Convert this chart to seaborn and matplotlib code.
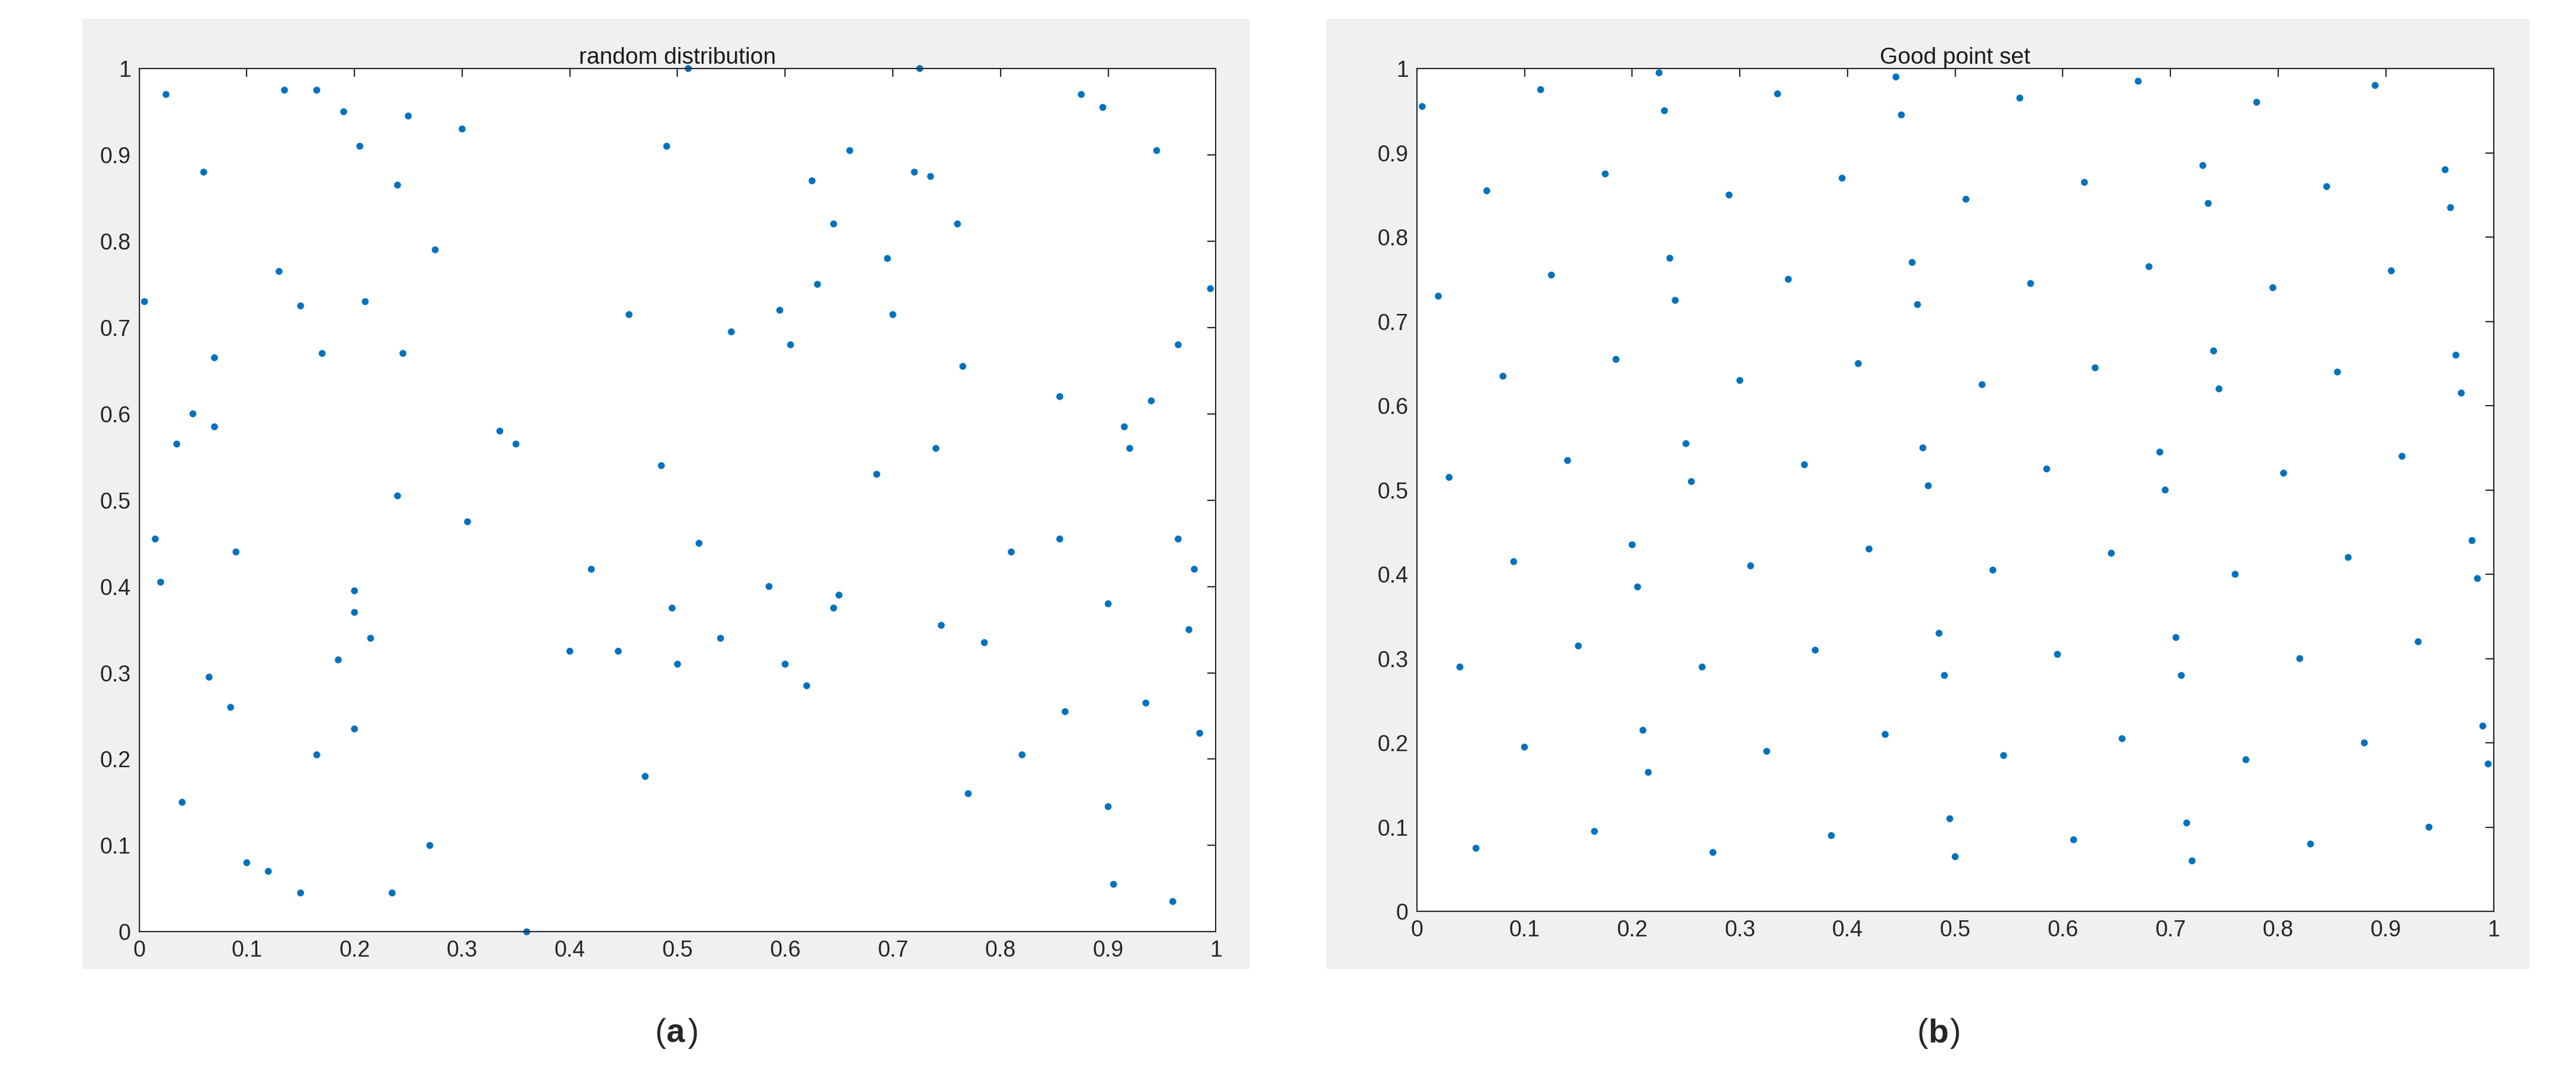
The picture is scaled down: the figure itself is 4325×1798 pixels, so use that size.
import matplotlib.pyplot as plt
import matplotlib.patches as mpatches
import seaborn as sns
import pandas as pd

sns.set_style("white")
plt.rcParams["font.family"] = ["Liberation Sans", "DejaVu Sans"]

# panel (a): random distribution
rand_x = [0.005, 0.015, 0.02, 0.025, 0.035, 0.04, 0.05, 0.06, 0.065, 0.07, 0.07, 0.085, 0.09, 0.1, 0.12,
          0.13, 0.135, 0.15, 0.15, 0.165, 0.165, 0.17, 0.185, 0.19, 0.2, 0.2, 0.2, 0.205, 0.21, 0.215,
          0.235, 0.24, 0.24, 0.245, 0.25, 0.27, 0.275, 0.3, 0.305, 0.335, 0.35, 0.36, 0.4, 0.42, 0.445,
          0.455, 0.47, 0.485, 0.49, 0.495, 0.5, 0.51, 0.52, 0.54, 0.55, 0.585, 0.595, 0.6, 0.605, 0.62,
          0.625, 0.63, 0.645, 0.645, 0.65, 0.66, 0.685, 0.695, 0.7, 0.72, 0.725, 0.735, 0.74, 0.745, 0.76,
          0.765, 0.77, 0.785, 0.81, 0.82, 0.855, 0.855, 0.86, 0.875, 0.895, 0.9, 0.9, 0.905, 0.915, 0.92,
          0.935, 0.94, 0.945, 0.96, 0.965, 0.965, 0.975, 0.98, 0.985, 0.995]
rand_y = [0.73, 0.455, 0.405, 0.97, 0.565, 0.15, 0.6, 0.88, 0.295, 0.665, 0.585, 0.26, 0.44, 0.08, 0.07,
          0.765, 0.975, 0.725, 0.045, 0.205, 0.975, 0.67, 0.315, 0.95, 0.395, 0.37, 0.235, 0.91, 0.73, 0.34,
          0.045, 0.505, 0.865, 0.67, 0.945, 0.1, 0.79, 0.93, 0.475, 0.58, 0.565, 0.0, 0.325, 0.42, 0.325,
          0.715, 0.18, 0.54, 0.91, 0.375, 0.31, 1.0, 0.45, 0.34, 0.695, 0.4, 0.72, 0.31, 0.68, 0.285,
          0.87, 0.75, 0.375, 0.82, 0.39, 0.905, 0.53, 0.78, 0.715, 0.88, 1.0, 0.875, 0.56, 0.355, 0.82,
          0.655, 0.16, 0.335, 0.44, 0.205, 0.62, 0.455, 0.255, 0.97, 0.955, 0.38, 0.145, 0.055, 0.585, 0.56,
          0.265, 0.615, 0.905, 0.035, 0.455, 0.68, 0.35, 0.42, 0.23, 0.745]

# panel (b): good point set
good_x = [0.005, 0.02, 0.03, 0.04, 0.055, 0.065, 0.08, 0.09, 0.1, 0.115, 0.125, 0.14, 0.15, 0.165, 0.175,
          0.185, 0.2, 0.205, 0.21, 0.215, 0.225, 0.23, 0.235, 0.24, 0.25, 0.255, 0.265, 0.275, 0.29, 0.3,
          0.31, 0.325, 0.335, 0.345, 0.36, 0.37, 0.385, 0.395, 0.41, 0.42, 0.435, 0.445, 0.45, 0.46, 0.465,
          0.47, 0.475, 0.485, 0.49, 0.495, 0.5, 0.51, 0.525, 0.535, 0.545, 0.56, 0.57, 0.585, 0.595, 0.61,
          0.62, 0.63, 0.645, 0.655, 0.67, 0.68, 0.69, 0.695, 0.705, 0.71, 0.715, 0.72, 0.73, 0.735, 0.74,
          0.745, 0.76, 0.77, 0.78, 0.795, 0.805, 0.82, 0.83, 0.845, 0.855, 0.865, 0.88, 0.89, 0.905, 0.915,
          0.93, 0.94, 0.955, 0.96, 0.965, 0.97, 0.98, 0.985, 0.99, 0.995]
good_y = [0.955, 0.73, 0.515, 0.29, 0.075, 0.855, 0.635, 0.415, 0.195, 0.975, 0.755, 0.535, 0.315, 0.095, 0.875,
          0.655, 0.435, 0.385, 0.215, 0.165, 0.995, 0.95, 0.775, 0.725, 0.555, 0.51, 0.29, 0.07, 0.85, 0.63,
          0.41, 0.19, 0.97, 0.75, 0.53, 0.31, 0.09, 0.87, 0.65, 0.43, 0.21, 0.99, 0.945, 0.77, 0.72,
          0.55, 0.505, 0.33, 0.28, 0.11, 0.065, 0.845, 0.625, 0.405, 0.185, 0.965, 0.745, 0.525, 0.305, 0.085,
          0.865, 0.645, 0.425, 0.205, 0.985, 0.765, 0.545, 0.5, 0.325, 0.28, 0.105, 0.06, 0.885, 0.84, 0.665,
          0.62, 0.4, 0.18, 0.96, 0.74, 0.52, 0.3, 0.08, 0.86, 0.64, 0.42, 0.2, 0.98, 0.76, 0.54,
          0.32, 0.1, 0.88, 0.835, 0.66, 0.615, 0.44, 0.395, 0.22, 0.175]

ticks = [0, 0.1, 0.2, 0.3, 0.4, 0.5, 0.6, 0.7, 0.8, 0.9, 1]
tick_labels = ["0", "0.1", "0.2", "0.3", "0.4", "0.5", "0.6", "0.7", "0.8", "0.9", "1"]

fig = plt.figure(figsize=(43.25, 17.98), dpi=100)

# gray MATLAB-style figure backgrounds
for x0, w in [(0.032, 0.453), (0.515, 0.467)]:
    fig.patches.append(mpatches.Rectangle((x0, 0.095), w, 0.887, transform=fig.transFigure,
                                          facecolor="#f0f0f0", edgecolor="none", zorder=-10))

panels = [
    ([0.054, 0.130, 0.418, 0.806], rand_x, rand_y, "random distribution", "a", 0.2585),
    ([0.550, 0.149, 0.418, 0.787], good_x, good_y, "Good point set", "b", 0.7485),
]

for rect, xs, ys, title, letter, lx in panels:
    ax = fig.add_axes(rect, zorder=5)
    ax.set_facecolor("white")
    df = pd.DataFrame({"x": xs, "y": ys})
    sns.scatterplot(data=df, x="x", y="y", ax=ax, color="#0072BD", s=70,
                    edgecolor="none", clip_on=False)
    ax.set_xlim(0, 1)
    ax.set_ylim(0, 1)
    ax.set_xticks(ticks)
    ax.set_yticks(ticks)
    ax.set_xticklabels(tick_labels)
    ax.set_yticklabels(tick_labels)
    ax.set_xlabel("")
    ax.set_ylabel("")
    ax.tick_params(direction="in", length=10, width=1.5, labelsize=27, top=True, right=True,
                   colors="#262626", pad=10)
    for sp in ax.spines.values():
        sp.set_color("#262626")
        sp.set_linewidth(1.5)
    ax.set_title(title, fontsize=28, pad=6, color="#1a1a1a")
    fig.text(lx, 0.035, "(", fontsize=40, ha="right", va="center")
    fig.text(lx, 0.035, letter, fontsize=40, fontweight="bold", ha="left", va="center")
    fig.text(lx + 0.0085, 0.035, ")", fontsize=40, ha="left", va="center")

fig.savefig("out.png", dpi=100, facecolor="white")
